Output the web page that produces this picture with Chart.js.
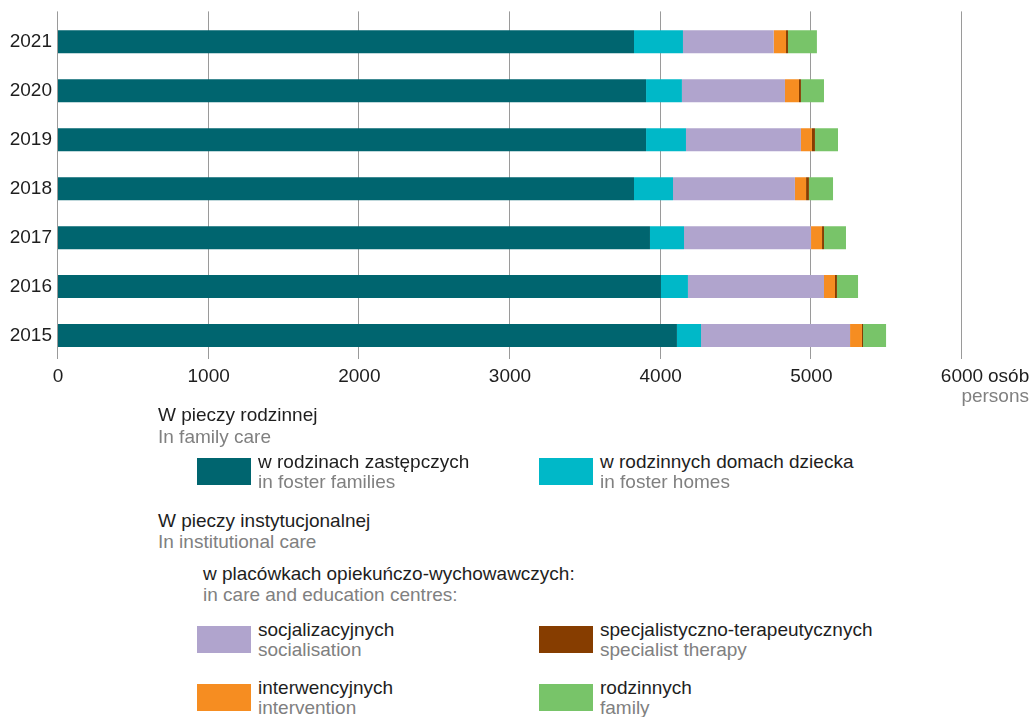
<!DOCTYPE html>
<html>
<head>
<meta charset="utf-8">
<script src="https://cdn.jsdelivr.net/npm/chart.js@4"></script>
<style>
  body { margin: 0; background: #fff; font-family: "Liberation Sans", Arial, sans-serif; }
  #wrap { position: relative; width: 1032px; height: 717px; overflow: hidden; }
  #chart { position: absolute; left: 0; top: 0; }
  .t { position: absolute; font-size: 19px; line-height: 20px; white-space: nowrap; color: #1e1e1e; }
  .g { color: #808080; }
  .sw { position: absolute; width: 54px; height: 27px; }
</style>
</head>
<body>
<div id="wrap">
  <canvas id="chart" width="1032" height="410"></canvas>
  <div id="legend"></div>
</div>
<script>
const years = ['2021', '2020', '2019', '2018', '2017', '2016', '2015'];
const fosterFamilies    = [3823, 3903, 3903, 3823, 3929, 4002, 4108];
const fosterHomes       = [325, 238, 265, 259, 226, 179, 160];
const socialisation     = [602, 684, 763, 809, 843, 903, 989];
const intervention      = [82, 93, 73, 74, 73, 73, 79];
const specialistTherapy = [13, 13, 20, 19, 13, 13, 7];
const familyCentres     = [192, 153, 153, 160, 146, 140, 153];
const xTicks = [0, 1000, 2000, 3000, 4000, 5000, 6000];

const colors = {
    teal: '#00656f', cyan: '#00b8c8', lilac: '#b0a4cd',
    orange: '#f68d21', brown: '#863d00', green: '#78c469'
};
const font = '"Liberation Sans", Arial, sans-serif';

// gridlines drawn a bit above the top band, behind the bars
const gridPlugin = {
    id: 'grid',
    beforeDatasetsDraw(chart) {
        const ctx = chart.ctx, x = chart.scales.x, area = chart.chartArea;
        ctx.save();
        ctx.strokeStyle = '#9a9a9a';
        ctx.lineWidth = 1;
        xTicks.forEach(v => {
            const px = Math.round(x.getPixelForValue(v)) - 0.5;
            ctx.beginPath();
            ctx.moveTo(px, area.top - 6);
            ctx.lineTo(px, area.bottom - 1);
            ctx.stroke();
        });
        ctx.restore();
    },
    afterDraw(chart) {
        const ctx = chart.ctx, x = chart.scales.x, area = chart.chartArea;
        const px = x.getPixelForValue(6000);
        ctx.save();
        ctx.font = '19px ' + font;
        ctx.textBaseline = 'middle';
        ctx.fillStyle = '#1e1e1e';
        ctx.textAlign = 'left';
        ctx.fillText('osób', px + 26, area.bottom + 17);
        ctx.fillStyle = '#808080';
        ctx.textAlign = 'right';
        ctx.fillText('persons', 1029, area.bottom + 37);
        ctx.restore();
    }
};

const ds = (label, data, color) => ({
    label, data, backgroundColor: color, borderWidth: 0,
    barPercentage: 0.47, categoryPercentage: 1
});

new Chart(document.getElementById('chart'), {
    type: 'bar',
    data: {
        labels: years,
        datasets: [
            ds('w rodzinach zastępczych', fosterFamilies, colors.teal),
            ds('w rodzinnych domach dziecka', fosterHomes, colors.cyan),
            ds('socjalizacyjnych', socialisation, colors.lilac),
            ds('interwencyjnych', intervention, colors.orange),
            ds('specjalistyczno-terapeutycznych', specialistTherapy, colors.brown),
            ds('rodzinnych', familyCentres, colors.green)
        ]
    },
    options: {
        indexAxis: 'y',
        responsive: false,
        animation: false,
        layout: { padding: { top: 16, right: 70, left: 0, bottom: 0 } },
        plugins: { legend: { display: false }, tooltip: { enabled: false } },
        scales: {
            x: {
                stacked: true, min: 0, max: 6000,
                afterBuildTicks: s => { s.ticks = xTicks.map(v => ({ value: v })); },
                afterFit: s => { s.height = 50; },
                grid: { display: false, drawTicks: false },
                border: { display: false },
                ticks: {
                    padding: 5, color: '#1e1e1e', maxRotation: 0, autoSkip: false,
                    font: { size: 19, family: font },
                    callback: v => String(v)
                }
            },
            y: {
                stacked: true,
                afterFit: s => { s.width = 58; },
                grid: { display: false, drawTicks: false },
                border: { display: false },
                ticks: { padding: 6, color: '#1e1e1e', autoSkip: false, font: { size: 19, family: font } }
            }
        }
    },
    plugins: [gridPlugin]
});

// legend
const legend = document.getElementById('legend');
function text(x, y, s, gray) {
    const d = document.createElement('div');
    d.className = 't' + (gray ? ' g' : '');
    d.style.left = x + 'px';
    d.style.top = (y - 10) + 'px';
    d.textContent = s;
    legend.appendChild(d);
}
function item(x, top, color, pl, en) {
    const s = document.createElement('div');
    s.className = 'sw';
    s.style.left = x + 'px';
    s.style.top = top + 'px';
    s.style.background = color;
    legend.appendChild(s);
    text(x + 61, top + 4, pl, false);
    text(x + 61, top + 24, en, true);
}
text(158, 415, 'W pieczy rodzinnej', false);
text(158, 437, 'In family care', true);
item(197, 458, colors.teal, 'w rodzinach zastępczych', 'in foster families');
item(539, 458, colors.cyan, 'w rodzinnych domach dziecka', 'in foster homes');
text(158, 521, 'W pieczy instytucjonalnej', false);
text(158, 542, 'In institutional care', true);
text(203, 574, 'w placówkach opiekuńczo-wychowawczych:', false);
text(203, 595, 'in care and education centres:', true);
item(197, 626, colors.lilac, 'socjalizacyjnych', 'socialisation');
item(539, 626, colors.brown, 'specjalistyczno-terapeutycznych', 'specialist therapy');
item(197, 684, colors.orange, 'interwencyjnych', 'intervention');
item(539, 684, colors.green, 'rodzinnych', 'family');
</script>
</body>
</html>
